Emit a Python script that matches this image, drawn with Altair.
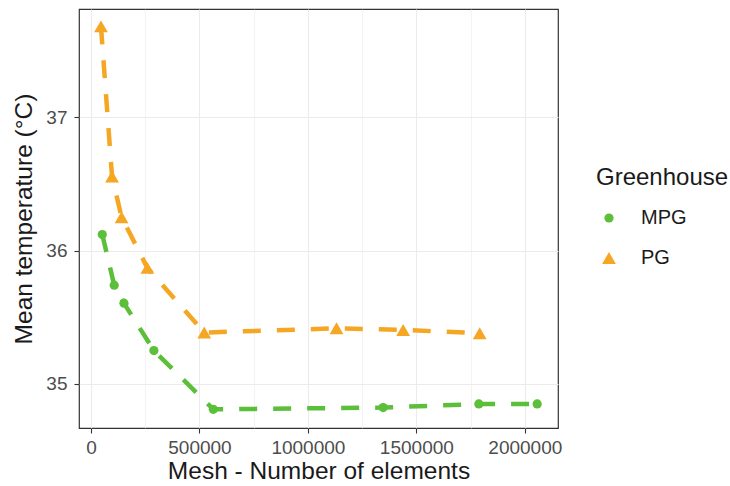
import altair as alt
import pandas as pd

# Mesh-independence study: mean temperature vs. number of mesh elements
mpg_elements = [52000, 107000, 152000, 290000, 564000, 1347000, 1788000, 2057000]
mpg_temp = [36.12, 35.74, 35.605, 35.25, 34.81, 34.823, 34.85, 34.85]

pg_elements = [46000, 97000, 141000, 260000, 522000, 1132000, 1439000, 1792000]
pg_temp = [37.68, 36.555, 36.25, 35.87, 35.385, 35.417, 35.405, 35.38]

greenhouses = ["MPG", "PG"]
colors = ["#5CBF3A", "#F5A623"]
shapes = ["circle", "triangle-up"]
marker_sizes = [85, 190]

x_ticks = [0, 250000, 500000, 750000, 1000000, 1250000, 1500000, 1750000, 2000000]
y_ticks = [35, 35.5, 36, 36.5, 37, 37.5]

df = pd.concat([
    pd.DataFrame({"elements": mpg_elements, "temp": mpg_temp, "Greenhouse": "MPG"}),
    pd.DataFrame({"elements": pg_elements, "temp": pg_temp, "Greenhouse": "PG"}),
], ignore_index=True)

FONT = "Liberation Sans"

x_enc = alt.X(
    "elements:Q",
    title="Mesh - Number of elements",
    scale=alt.Scale(domain=[-55300, 2153000], nice=False, zero=False),
    axis=alt.Axis(
        values=x_ticks,
        labelExpr="datum.value % 500000 == 0 ? datum.label : ''",
        format="d",
        tickOpacity={"condition": {"test": "datum.value % 500000 != 0", "value": 0}, "value": 1},
        gridWidth={"condition": {"test": "datum.value % 500000 != 0", "value": 0.6}, "value": 1.1},
    ),
)
y_enc = alt.Y(
    "temp:Q",
    title="Mean temperature (°C)",
    scale=alt.Scale(domain=[34.67, 37.81], nice=False, zero=False),
    axis=alt.Axis(
        values=y_ticks,
        labelExpr="datum.value % 1 == 0 ? datum.label : ''",
        format="d",
        tickOpacity={"condition": {"test": "datum.value % 1 != 0", "value": 0}, "value": 1},
        gridWidth={"condition": {"test": "datum.value % 1 != 0", "value": 0.6}, "value": 1.1},
    ),
)
color_enc = alt.Color(
    "Greenhouse:N",
    scale=alt.Scale(domain=greenhouses, range=colors),
    legend=alt.Legend(
        orient="none", legendX=517, legendY=157,
        symbolSize=150, symbolStrokeWidth=0, rowPadding=20, labelOffset=22,
        symbolOffset=3, padding=0,
    ),
)
shape_enc = alt.Shape(
    "Greenhouse:N",
    scale=alt.Scale(domain=greenhouses, range=shapes),
)
size_enc = alt.Size(
    "Greenhouse:N",
    scale=alt.Scale(domain=greenhouses, range=marker_sizes),
    legend=None,
)

lines = alt.Chart(df).mark_line(strokeWidth=4.5, strokeDash=[18, 16]).encode(
    x=x_enc, y=y_enc, color=color_enc, detail="Greenhouse:N"
)
points = alt.Chart(df).mark_point(filled=True, opacity=1).encode(
    x=x_enc, y=y_enc, color=color_enc, shape=shape_enc, size=size_enc
)

chart = (
    alt.layer(lines, points)
    .properties(
        width=479, height=419,
        autosize=alt.AutoSizeParams(type="none"),
        padding={"left": 79, "top": 9, "right": 172, "bottom": 58},
        background="white",
    )
    .configure_view(stroke="#333333", strokeWidth=1.2)
    .configure_axis(
        labelFont=FONT, titleFont=FONT,
        labelFontSize=19, titleFontSize=24.5,
        labelColor="#4D4D4D", titleColor="#1A1A1A",
        titleFontWeight="normal",
        domain=False, tickColor="#333333", tickSize=5, tickWidth=1.1,
        gridColor="#EBEBEB", labelPadding=7,
    )
    .configure_axisX(labelPadding=5, titlePadding=2)
    .configure_axisY(titlePadding=9)
    .configure_legend(
        titleFont=FONT, labelFont=FONT,
        titleFontSize=24, labelFontSize=20,
        titleColor="#1A1A1A", labelColor="#1A1A1A",
        titleFontWeight="normal", titlePadding=18,
    )
)

chart.save("out.html", embed_options={"renderer": "svg", "actions": False})
